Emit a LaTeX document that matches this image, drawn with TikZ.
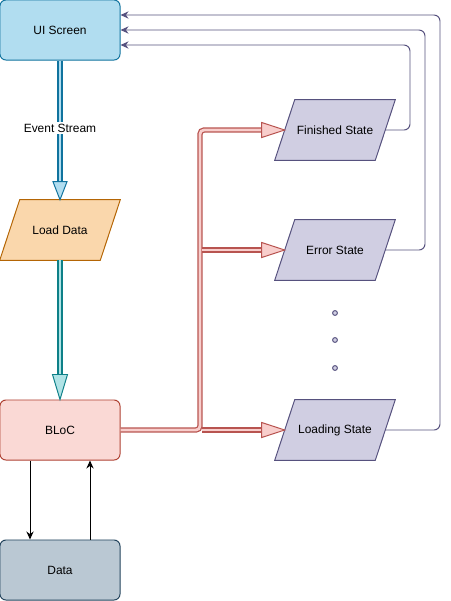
\documentclass[tikz,border=0pt]{standalone}
\usepackage{fontspec}
\setmainfont{Liberation Sans}
\usetikzlibrary{arrows.meta,calc,backgrounds}
\definecolor{uifill}{HTML}{B1DDF0}
\definecolor{uidraw}{HTML}{10739E}
\definecolor{loadfill}{HTML}{FAD7AC}
\definecolor{loaddraw}{HTML}{B46504}
\definecolor{blocfill}{HTML}{FAD9D5}
\definecolor{blocdraw}{HTML}{AE4132}
\definecolor{datafill}{HTML}{BAC8D3}
\definecolor{datadraw}{HTML}{23445D}
\definecolor{statefill}{HTML}{D0CEE2}
\definecolor{statedraw}{HTML}{56517E}
\definecolor{tealfill}{HTML}{B0E3E6}
\definecolor{tealdraw}{HTML}{0E8088}
\definecolor{redfill}{HTML}{F8CECC}
\definecolor{reddraw}{HTML}{B85450}

\begin{document}
\begin{tikzpicture}[x=0.025cm,y=-0.025cm,
    every node/.style={font=\fontsize{8.5}{10}\selectfont, inner sep=0pt},
    box/.style={draw, rounded corners=0.15cm, minimum width=3cm, minimum height=1.5cm, line width=0.7pt},
    para/.style={minimum width=2.5cm, minimum height=1.5cm},
    shaft/.style={line width=0.9pt, double distance=0.07cm},
    head/.style={line width=0.7pt},
    fback/.style={draw=statedraw, line width=0.7pt, rounded corners=0.15cm, -{Stealth[length=0.2cm,width=0.18cm]}},
    link/.style={line width=0.7pt, -{Stealth[length=0.2cm,width=0.18cm]}},
    dotc/.style={circle, draw=statedraw, fill=statefill, minimum size=0.12cm, line width=0.7pt}]
  \useasboundingbox (0,0) rectangle (451,601);

  % boxes on the left
  \node[box, fill=uifill, draw=uidraw] (ui) at (60,30) {UI Screen};
  \node[para] (load) at (60,230) {Load Data};
  \node[box, fill=blocfill, draw=blocdraw] (bloc) at (60,430) {BLoC};
  \node[box, fill=datafill, draw=datadraw] (data) at (60,570) {Data};

  % states on the right
  \node[para] (fin) at (335,130) {Finished State};
  \node[para] (err) at (335,250) {Error State};
  \node[para] (ldg) at (335,430) {Loading State};
  \node[dotc] (dot1) at (335,313) {};
  \node[dotc] (dot2) at (335,340) {};
  \node[dotc] (dot3) at (335,368) {};

  % slanted outlines
  \begin{scope}[on background layer]
    \filldraw[line width=0.7pt, fill=loadfill, draw=loaddraw] ($(load.north west)+(10,0)$) -- ($(load.north east)+(10,0)$)
      -- ($(load.south east)+(-10,0)$) -- ($(load.south west)+(-10,0)$) -- cycle;
    \foreach \s in {fin,err,ldg}
      \filldraw[line width=0.7pt, fill=statefill, draw=statedraw] ($(\s.north west)+(10,0)$) -- ($(\s.north east)+(10,0)$)
        -- ($(\s.south east)+(-10,0)$) -- ($(\s.south west)+(-10,0)$) -- cycle;
  \end{scope}

  % event stream
  \draw[shaft, draw=uidraw, double=uifill] (ui.south) -- ($(load.north)+(0,-18)$);
  \filldraw[head, fill=uifill, draw=uidraw] ($(load.north)+(-7,-18)$) -- ($(load.north)+(7,-18)$) -- (load.north) -- cycle;
  \node[fill=white, inner sep=1pt] (evlabel) at (60,128) {Event Stream};

  \draw[shaft, draw=tealdraw, double=tealfill] (load.south) -- ($(bloc.north)+(0,-25)$);
  \filldraw[head, fill=tealfill, draw=tealdraw] ($(bloc.north)+(-7.5,-25)$) -- ($(bloc.north)+(7.5,-25)$) -- (bloc.north) -- cycle;

  % bloc to states
  \draw[shaft, draw=reddraw, double=redfill, rounded corners=0.1cm] (bloc.east) -- (200,430) -- (200,130) -- ($(fin.west)+(-23,0)$);
  \draw[shaft, draw=reddraw, double=redfill] (202,250) -- ($(err.west)+(-23,0)$);
  \draw[shaft, draw=reddraw, double=redfill] (202,430) -- ($(ldg.west)+(-23,0)$);
  \foreach \s in {fin,err,ldg}
    \filldraw[head, fill=redfill, draw=reddraw] ($(\s.west)+(-23,-7.5)$) -- ($(\s.west)+(-23,7.5)$) -- (\s.west) -- cycle;

  % states back to the screen
  \draw[fback] (fin.east) -- (410,130) -- (410,45) -- ($(ui.east)+(0,15)$);
  \draw[fback] (err.east) -- (425,250) -- (425,30) -- (ui.east);
  \draw[fback] (ldg.east) -- (440,430) -- (440,15) -- ($(ui.east)+(0,-15)$);

  % data
  \draw[link] ($(bloc.south)+(-30,0)$) -- ($(data.north)+(-30,0)$);
  \draw[link] ($(data.north)+(30,0)$) -- ($(bloc.south)+(30,0)$);
\end{tikzpicture}
\end{document}
